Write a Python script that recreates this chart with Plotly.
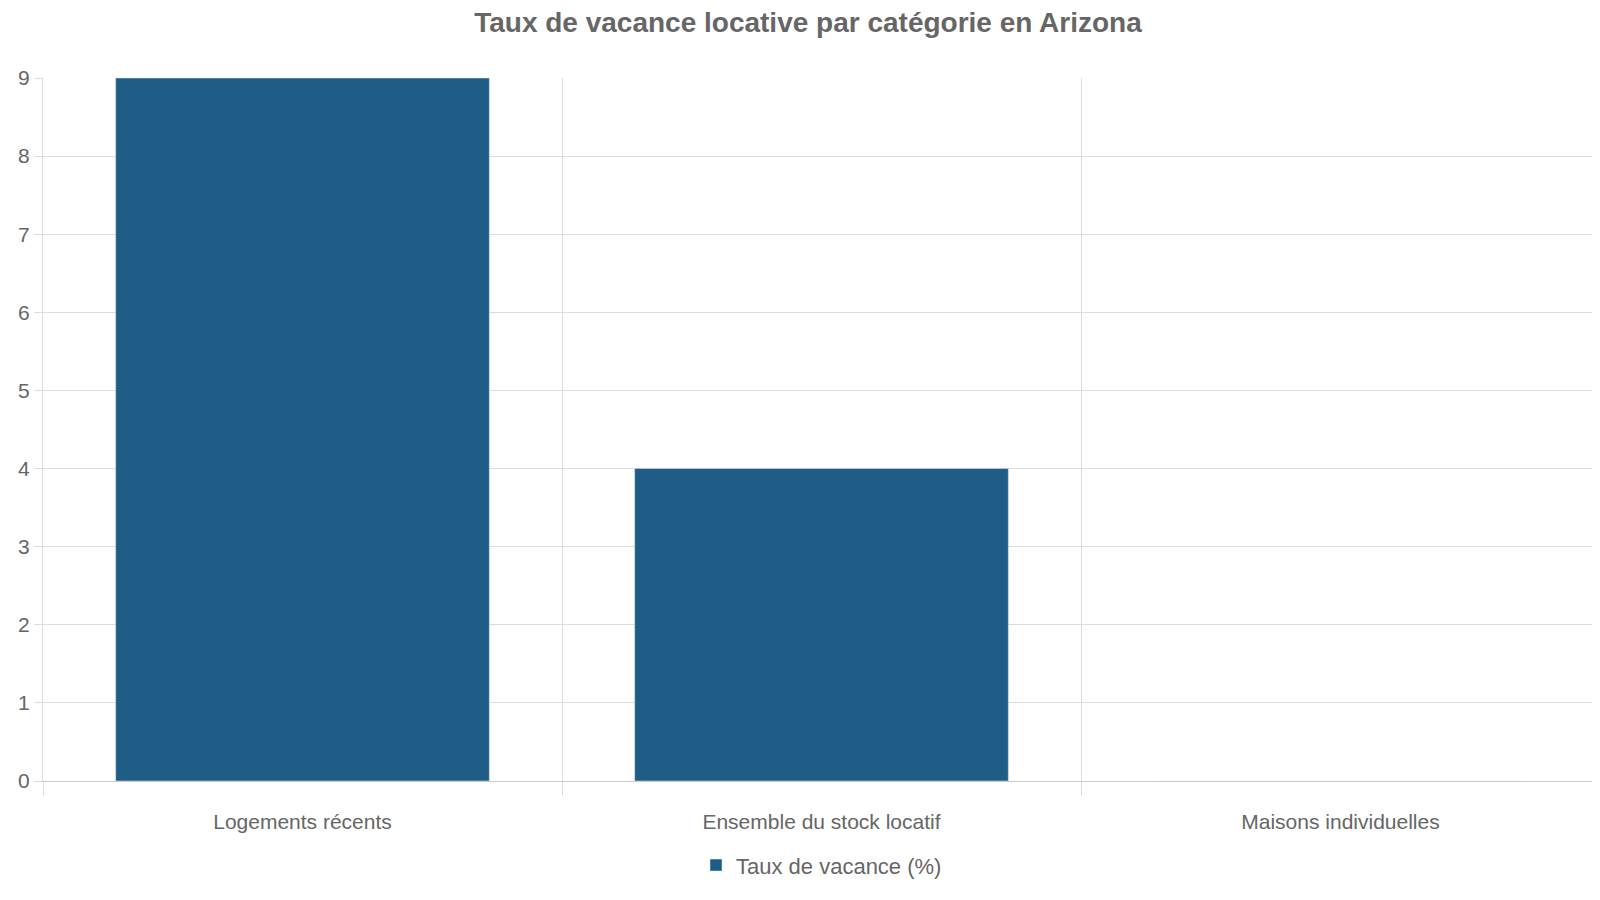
import plotly.graph_objects as go

categories = ["Logements récents", "Ensemble du stock locatif", "Maisons individuelles"]
vacancy_rate = [9, 4, 0]

fig = go.Figure()
fig.add_trace(go.Bar(
    x=categories,
    y=vacancy_rate,
    name="Taux de vacance (%)",
    marker=dict(color="#1f5c86"),
    width=0.72,
    showlegend=True,
))

fig.update_layout(
    width=1600,
    height=900,
    paper_bgcolor="white",
    plot_bgcolor="white",
    font=dict(family="Liberation Sans, Arial, sans-serif", color="#666666", size=20),
    title=dict(text="<b>Taux de vacance locative par catégorie en Arizona</b>",
               x=0.5, xanchor="center", y=0.995, yanchor="top",
               font=dict(size=28, color="#666666")),
    margin=dict(l=35, r=8, t=70, b=127),
    showlegend=True,
    legend=dict(orientation="h", x=0.5, xanchor="center", y=-0.09, yanchor="top",
                font=dict(size=22, color="#666666")),
    xaxis=dict(
        tickson="boundaries", ticks="outside", ticklen=14, tickcolor="#dddddd",
        showgrid=True, gridcolor="#dddddd", showline=True, linecolor="#cccccc",
        tickfont=dict(size=21), ticklabelstandoff=22, automargin=False,
    ),
    yaxis=dict(
        range=[0, 9], dtick=1, ticks="outside", ticklen=8, tickcolor="#dddddd",
        showgrid=True, gridcolor="#dddddd", showline=True, linecolor="#dddddd",
        zeroline=False, tickfont=dict(size=21), automargin=False,
    ),
)

fig.write_html("out.html")
